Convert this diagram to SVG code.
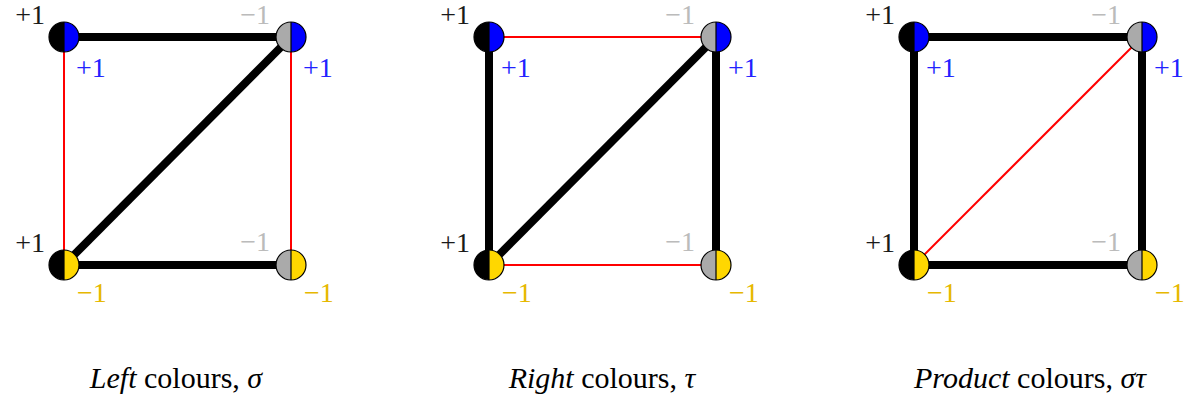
<svg xmlns="http://www.w3.org/2000/svg" width="1198" height="400" viewBox="0 0 1198 400">
<style>
.thick{stroke:#000;stroke-width:8;stroke-linecap:butt}
.red{stroke:#ff0000;stroke-width:2}
.lbl{font-size:28px}
.cap{font-size:30px;fill:#000;text-anchor:middle}
.k{fill:#1a1a1a}
.g{fill:#bbbbbb}
.b{fill:#2222ff}
.y{fill:#e6b800}
.e{text-anchor:end}
.ol{fill:none;stroke:#000;stroke-width:1.2}
</style>
<defs>
<path id="L" d="M0,-15 A15,15 0 0 0 0,15 Z"/>
<path id="R" d="M0,-15 A15,15 0 0 1 0,15 Z"/>
<g id="ring"><circle r="15" class="ol"/><line x1="0" y1="-15" x2="0" y2="15" stroke="#000" stroke-width="1.2"/></g>
</defs>
<rect width="1198" height="400" fill="#fff"/>

<g id="connectors">
<line class="thick" x1="64" y1="37" x2="291" y2="37"/>
<line class="thick" x1="64" y1="265" x2="291" y2="265"/>
<line class="thick" x1="64" y1="265" x2="291" y2="37"/>
<line class="red" x1="64" y1="37" x2="64" y2="265"/>
<line class="red" x1="291" y1="37" x2="291" y2="265"/>
<line class="red" x1="489" y1="37" x2="716" y2="37"/>
<line class="red" x1="489" y1="265" x2="716" y2="265"/>
<line class="thick" x1="489" y1="37" x2="489" y2="265"/>
<line class="thick" x1="716" y1="37" x2="716" y2="265"/>
<line class="thick" x1="489" y1="265" x2="716" y2="37"/>
<line class="thick" x1="914" y1="37" x2="1142" y2="37"/>
<line class="thick" x1="914" y1="265" x2="1142" y2="265"/>
<line class="thick" x1="914" y1="37" x2="914" y2="265"/>
<line class="thick" x1="1142" y1="37" x2="1142" y2="265"/>
<line class="red" x1="914" y1="265" x2="1142" y2="37"/>
</g>

<g id="nodes" font-family="Liberation Serif, DejaVu Serif, serif">
<g id="p1-tl" transform="translate(64,37)">
<use href="#L" fill="#000"/><use href="#R" fill="#0000ff"/><use href="#ring"/>
<text class="lbl k e" x="-19" y="-13">+1</text>
<text class="lbl b" x="12" y="40">+1</text>
</g>
<g id="p1-tr" transform="translate(291,37)">
<use href="#L" fill="#aaaaaa"/><use href="#R" fill="#0000ff"/><use href="#ring"/>
<text class="lbl g e" x="-21" y="-13">−1</text>
<text class="lbl b" x="12" y="40">+1</text>
</g>
<g id="p1-bl" transform="translate(64,265)">
<use href="#L" fill="#000"/><use href="#R" fill="#ffd700"/><use href="#ring"/>
<text class="lbl k e" x="-19" y="-13">+1</text>
<text class="lbl y" x="13" y="37">−1</text>
</g>
<g id="p1-br" transform="translate(291,265)">
<use href="#L" fill="#aaaaaa"/><use href="#R" fill="#ffd700"/><use href="#ring"/>
<text class="lbl g e" x="-21" y="-14">−1</text>
<text class="lbl y" x="13" y="37">−1</text>
</g>

<g id="p2-tl" transform="translate(489,37)">
<use href="#L" fill="#000"/><use href="#R" fill="#0000ff"/><use href="#ring"/>
<text class="lbl k e" x="-19" y="-13">+1</text>
<text class="lbl b" x="12" y="40">+1</text>
</g>
<g id="p2-tr" transform="translate(716,37)">
<use href="#L" fill="#aaaaaa"/><use href="#R" fill="#0000ff"/><use href="#ring"/>
<text class="lbl g e" x="-21" y="-13">−1</text>
<text class="lbl b" x="12" y="40">+1</text>
</g>
<g id="p2-bl" transform="translate(489,265)">
<use href="#L" fill="#000"/><use href="#R" fill="#ffd700"/><use href="#ring"/>
<text class="lbl k e" x="-19" y="-13">+1</text>
<text class="lbl y" x="13" y="37">−1</text>
</g>
<g id="p2-br" transform="translate(716,265)">
<use href="#L" fill="#aaaaaa"/><use href="#R" fill="#ffd700"/><use href="#ring"/>
<text class="lbl g e" x="-21" y="-14">−1</text>
<text class="lbl y" x="13" y="37">−1</text>
</g>

<g id="p3-tl" transform="translate(914,37)">
<use href="#L" fill="#000"/><use href="#R" fill="#0000ff"/><use href="#ring"/>
<text class="lbl k e" x="-19" y="-13">+1</text>
<text class="lbl b" x="12" y="40">+1</text>
</g>
<g id="p3-tr" transform="translate(1142,37)">
<use href="#L" fill="#aaaaaa"/><use href="#R" fill="#0000ff"/><use href="#ring"/>
<text class="lbl g e" x="-21" y="-13">−1</text>
<text class="lbl b" x="12" y="40">+1</text>
</g>
<g id="p3-bl" transform="translate(914,265)">
<use href="#L" fill="#000"/><use href="#R" fill="#ffd700"/><use href="#ring"/>
<text class="lbl k e" x="-19" y="-13">+1</text>
<text class="lbl y" x="13" y="37">−1</text>
</g>
<g id="p3-br" transform="translate(1142,265)">
<use href="#L" fill="#aaaaaa"/><use href="#R" fill="#ffd700"/><use href="#ring"/>
<text class="lbl g e" x="-21" y="-14">−1</text>
<text class="lbl y" x="13" y="37">−1</text>
</g>
</g>

<g id="captions" font-family="Liberation Serif, DejaVu Serif, serif">
<text class="cap" x="176" y="388"><tspan font-style="italic">Left</tspan> colours, <tspan font-style="italic">σ</tspan></text>
<text class="cap" x="602" y="388"><tspan font-style="italic">Right</tspan> colours, <tspan font-style="italic">τ</tspan></text>
<text class="cap" x="1030" y="388"><tspan font-style="italic">Product</tspan> colours, <tspan font-style="italic">στ</tspan></text>
</g>
</svg>
